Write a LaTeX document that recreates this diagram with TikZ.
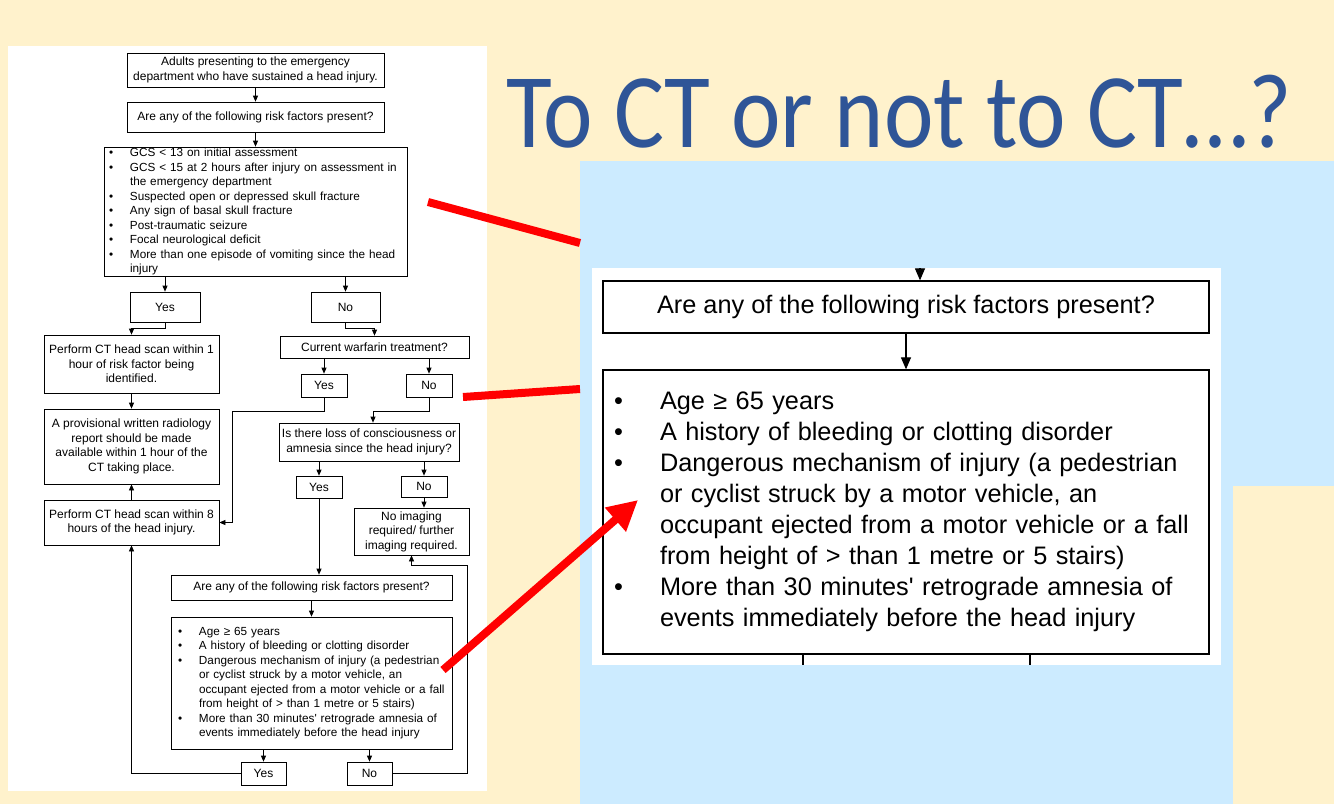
\documentclass[tikz,border=0pt]{standalone}
\usepackage{fontspec}
\setmainfont{Liberation Sans}
\newfontfamily\titlefont{Carlito}
\usetikzlibrary{arrows.meta,calc}
\definecolor{cream}{RGB}{255,242,204}
\definecolor{skyb}{RGB}{204,235,255}
\definecolor{titleblue}{RGB}{47,85,151}
\newcommand{\sbul}[1]{\makebox[21pt][l]{\textbullet}#1}
\newcommand{\scont}[1]{\hspace*{21pt}#1}
\newcommand{\zbul}[1]{\makebox[46pt][l]{\textbullet}#1}
\newcommand{\zcont}[1]{\hspace*{46pt}#1}
\begin{document}
\begin{tikzpicture}[x=1pt,y=-1pt,
  flowbox/.style={draw=black, line width=0.7pt, fill=white, inner sep=2pt, align=center,
    font=\fontsize{12}{14.5}\selectfont},
  listbox/.style={draw=black, line width=0.7pt, fill=white, inner xsep=5pt, inner ysep=0pt, align=left,
    font=\fontsize{11.75}{14.5}\selectfont},
  zbox/.style={draw=black, line width=1.3pt, fill=white, inner xsep=11pt, inner ysep=0pt,
    font=\fontsize{25.3}{31}\selectfont},
  arr/.style={-{Triangle[length=6pt,width=5pt]}, line width=0.7pt},
  zarr/.style={-{Triangle[length=12pt,width=10pt]}, line width=1.2pt},
  redline/.style={red, line width=8pt},
]
\useasboundingbox (0,0) rectangle (1334,804);
\fill[cream] (0,0) rectangle (1334,804);
% panels
\fill[white] (8,46) rectangle (487,791);
\fill[skyb] (580,161) rectangle (1334,804);
\fill[cream] (1233,486) rectangle (1334,804);
\fill[white] (592,268) rectangle (1221,665);

% title
\node[anchor=base west, inner sep=0, text=titleblue, font=\titlefont\fontsize{106}{110}\selectfont] (title) at (506,147) {\scalebox{0.885}[1]{To CT or not to CT\ldots?}};

% ---- small flowchart ----
\node[flowbox, minimum width=257pt, minimum height=34pt] (A) at (255.5,70)
  {Adults presenting to the emergency\\department who have sustained a head injury.};
\node[flowbox, minimum width=257pt, minimum height=30pt] (B) at (255.5,117)
  {Are any of the following risk factors present?};
\node[listbox, minimum width=303pt, minimum height=129pt, text width=293pt] (C) at (255.5,211.5)
  {\sbul{GCS < 13 on initial assessment}\\
   \sbul{GCS < 15 at 2 hours after injury on assessment in}\\
   \scont{the emergency department}\\
   \sbul{Suspected open or depressed skull fracture}\\
   \sbul{Any sign of basal skull fracture}\\
   \sbul{Post-traumatic seizure}\\
   \sbul{Focal neurological deficit}\\
   \sbul{More than one episode of vomiting since the head}\\
   \scont{injury}};
\node[flowbox, minimum width=70pt, minimum height=30pt] (yes1) at (165,307) {Yes};
\node[flowbox, minimum width=69pt, minimum height=30pt] (no1) at (345.5,307) {No};
\node[flowbox, minimum width=175pt, minimum height=58pt] (perf1) at (131.5,364)
  {Perform CT head scan within 1\\hour of risk factor being\\identified.};
\node[flowbox, minimum width=175pt, minimum height=75pt] (prov) at (131.5,446.5)
  {A provisional written radiology\\report should be made\\available within 1 hour of the\\CT taking place.};
\node[flowbox, minimum width=175pt, minimum height=45pt] (perf8) at (131.5,522.5)
  {Perform CT head scan within 8\\hours of the head injury.};
\node[flowbox, minimum width=189pt, minimum height=22pt] (warf) at (374.5,347)
  {Current warfarin treatment?};
\node[flowbox, minimum width=46pt, minimum height=23pt] (yes2) at (324,385.5) {Yes};
\node[flowbox, minimum width=46pt, minimum height=23pt] (no2) at (429,385.5) {No};
\node[flowbox, minimum width=180pt, minimum height=38pt] (conc) at (369,442)
  {Is there loss of consciousness or\\amnesia since the head injury?};
\node[flowbox, minimum width=46pt, minimum height=22pt] (yes3) at (319,487) {Yes};
\node[flowbox, minimum width=46pt, minimum height=21pt] (no3) at (424,486.5) {No};
\node[flowbox, minimum width=115pt, minimum height=47pt] (nimg) at (411.5,531.5)
  {No imaging\\required/ further\\imaging required.};
\node[flowbox, minimum width=281pt, minimum height=25pt] (D) at (311.5,587.5)
  {Are any of the following risk factors present?};
\node[listbox, minimum width=281pt, minimum height=132pt, text width=267pt, inner xsep=7pt] (E) at (311.5,683)
  {\sbul{Age ≥ 65 years}\\
   \sbul{A history of bleeding or clotting disorder}\\
   \sbul{Dangerous mechanism of injury (a pedestrian}\\
   \scont{or cyclist struck by a motor vehicle, an}\\
   \scont{occupant ejected from a motor vehicle or a fall}\\
   \scont{from height of > than 1 metre or 5 stairs)}\\
   \sbul{More than 30 minutes\textquotesingle\ retrograde amnesia of}\\
   \scont{events immediately before the head injury}};
\node[flowbox, minimum width=45pt, minimum height=23pt] (yes4) at (263.5,773.5) {Yes};
\node[flowbox, minimum width=45pt, minimum height=23pt] (no4) at (369.5,773.5) {No};

% connectors
\draw[arr] (A) -- (B);
\draw[arr] (B) -- (C);
\draw[arr] (yes1.north |- C.south) -- (yes1.north);
\draw[arr] (no1.north |- C.south) -- (no1.north);
\draw[arr] (yes1.south) -- ++(0,6) -| (perf1.north);
\draw[arr] (no1.south) -- ++(0,6) -| (warf.north);
\draw[arr] (perf1) -- (prov);
\draw[arr] (perf8) -- (prov);
\draw[arr] (yes2.north |- warf.south) -- (yes2.north);
\draw[arr] (no2.north |- warf.south) -- (no2.north);
\draw[arr] (yes2.south) -- ++(0,14) -| ($(perf8.east)+(13,0)$) -- (perf8.east);
\draw[arr] (no2.south) -- ++(0,14) -| ($(conc.north)+(4,0)$);
\draw[arr] (yes3.north |- conc.south) -- (yes3.north);
\draw[arr] (no3.north |- conc.south) -- (no3.north);
\draw[arr] (no3.south) -- (no3.south |- nimg.north);
\draw[arr] (yes3.south) -- (yes3.south |- D.north);
\draw[arr] (D) -- (E);
\draw[arr] (yes4.north |- E.south) -- (yes4.north);
\draw[arr] (no4.north |- E.south) -- (no4.north);
\draw[arr] (yes4.west) -| (perf8.south);
\draw[arr] (no4.east) -- ++(75,0) |- ($(nimg.south)+(0,10)$) -- (nimg.south);

% ---- zoomed panel ----
\node[zbox, minimum width=606pt, minimum height=52pt, align=center] (zB) at (906,307)
  {Are any of the following risk factors present?};
\node[zbox, minimum width=606pt, minimum height=284pt, text width=584pt, align=left] (zE) at (906,512)
  {\zbul{Age ≥ 65 years}\\
   \zbul{A history of bleeding or clotting disorder}\\
   \zbul{Dangerous mechanism of injury (a pedestrian}\\
   \zcont{or cyclist struck by a motor vehicle, an}\\
   \zcont{occupant ejected from a motor vehicle or a fall}\\
   \zcont{from height of > than 1 metre or 5 stairs)}\\
   \zbul{More than 30 minutes\textquotesingle\ retrograde amnesia of}\\
   \zcont{events immediately before the head injury}};
\coordinate (ztop) at (920,268);
\coordinate (zb1) at (803,665);
\coordinate (zb2) at (1030,665);
\draw[zarr] (ztop) -- (ztop |- zB.north);
\draw[zarr] (zB) -- (zE);
\draw[line width=1.2pt] (zb1 |- zE.south) -- (zb1);
\draw[line width=1.2pt] (zb2 |- zE.south) -- (zb2);

% ---- red pointers ----
\coordinate (r1a) at (428,202);
\coordinate (r1b) at (580,243);
\coordinate (r2a) at (463,397);
\coordinate (r2b) at (580,389);
\coordinate (r3a) at (443,670);
\coordinate (r3b) at (638,500);
\draw[redline] (r1a) -- (r1b);
\draw[redline] (r2a) -- (r2b);
\draw[redline, -{Triangle[length=30pt,width=30pt]}] (r3a) -- (r3b);
\end{tikzpicture}
\end{document}
